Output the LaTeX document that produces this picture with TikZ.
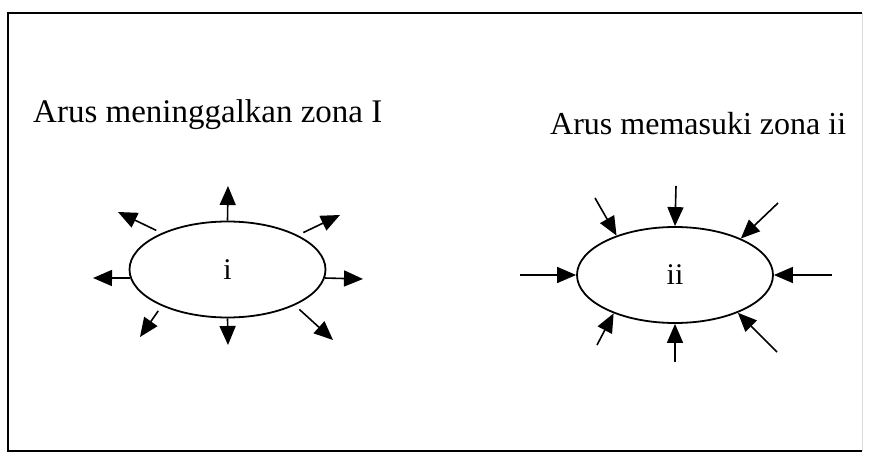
\documentclass[tikz,border=0pt]{standalone}
\usepackage{fontspec}
\setmainfont{Liberation Serif}
\usetikzlibrary{arrows.meta,shapes.geometric}

\begin{document}
\begin{tikzpicture}[x=1pt,y=-1pt,
  zone/.style={ellipse,draw,line width=1.8pt,minimum width=196pt,minimum height=96pt,inner sep=0pt,font=\fontsize{30}{36}\selectfont},
  flow/.style={line width=1.6pt,-{Triangle[length=19pt,width=16pt]}},
  caption/.style={anchor=base west,inner sep=0pt}]
\useasboundingbox (0,0) rectangle (883,457);

% Frame
\draw[line width=1.2pt] (862,13) -- (8,13) -- (8,451) -- (862,451);
\draw[line width=0.6pt,black!15] (862,13) -- (862,451);

% Zone i: flow leaving
\node[caption,font=\fontsize{33}{40}\selectfont] (capi) at (33,123) {Arus meninggalkan zona I};
\node[zone] (zi) at (227.5,269.5) {i};
\foreach \a/\x/\y/\g in {90/228/186/0, 151/118/212/6, 26/340/215/6, 185/93/278/0,
                         355/363/279/0, 209/140/337/6, 270/228/345/0, 332/333/340/6} {
  \coordinate (out\a) at (\x,\y);
  \draw[flow,shorten <=\g pt] (zi.\a) -- (out\a);
}

% Zone ii: flow entering
\node[caption,font=\fontsize{32}{38}\selectfont] (capii) at (550,135) {Arus memasuki zona ii};
\node[zone] (zii) at (675,275) {ii};
\foreach \a/\x/\y in {90/676/186, 146/595/198, 29/778/203, 180/520/275,
                      0/832/275, 212/597/345, 270/675/362, 329/777/352} {
  \coordinate (in\a) at (\x,\y);
  \draw[flow] (in\a) -- (zii.\a);
}
\end{tikzpicture}
\end{document}
